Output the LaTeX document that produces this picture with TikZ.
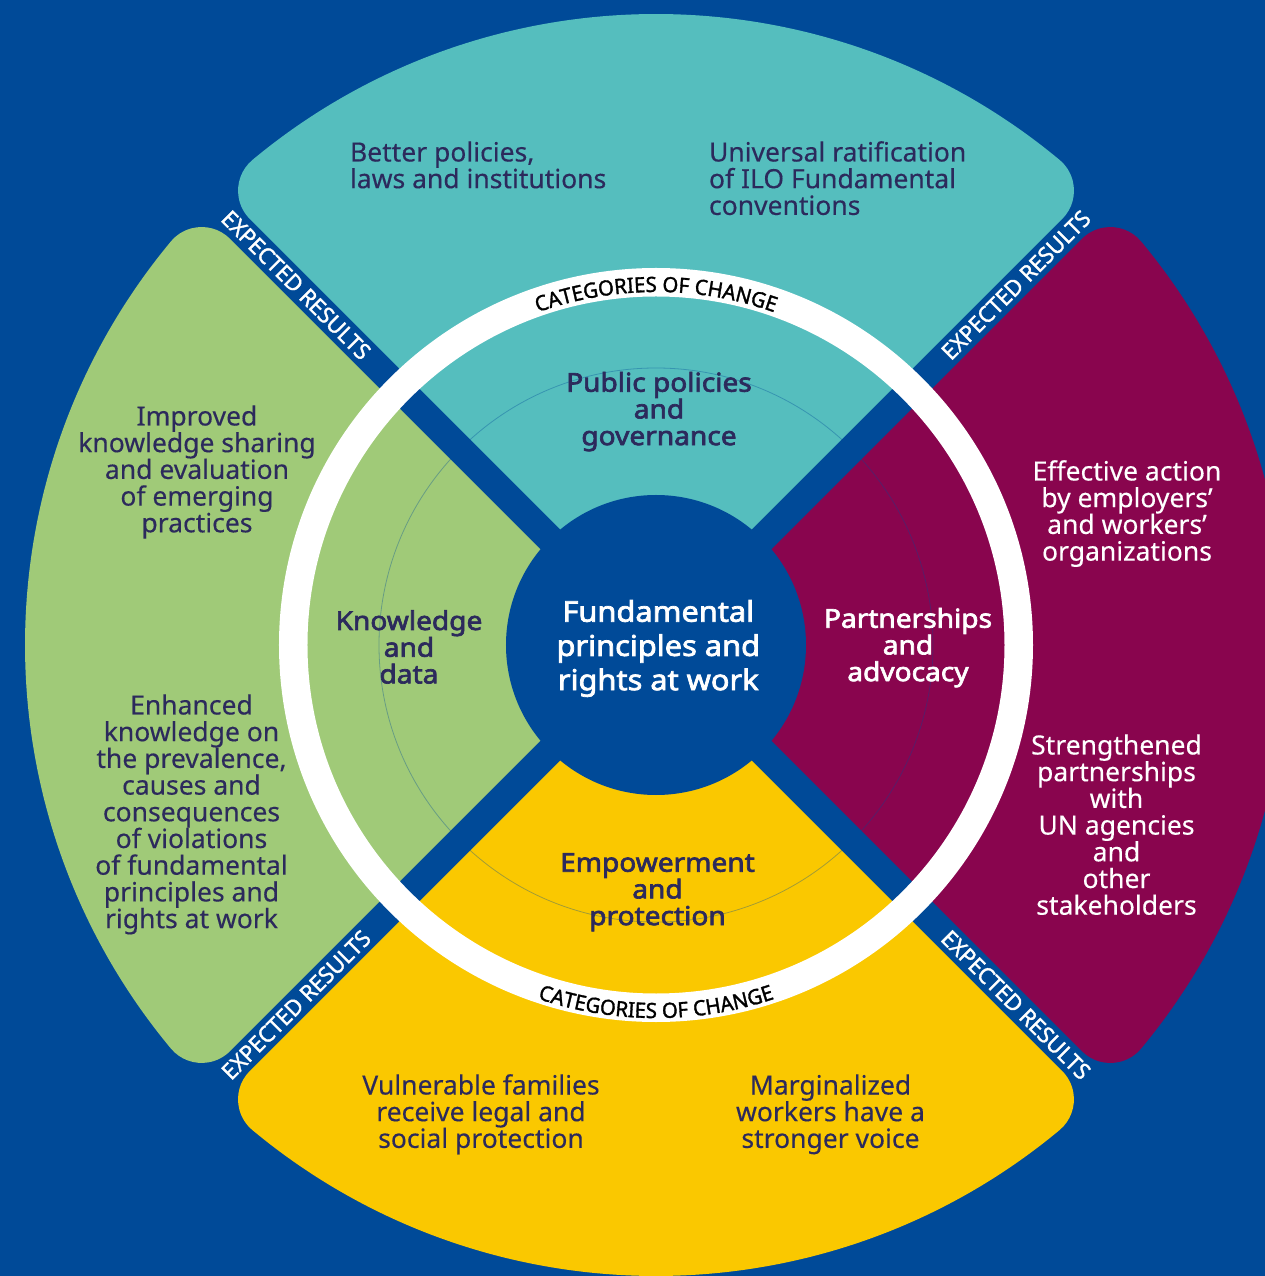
\documentclass[tikz,border=0pt]{standalone}
\usepackage{fontspec}
\setmainfont{Noto Sans}[FakeBold=0.3]
\newfontfamily\heavyfam{Noto Sans}[FakeBold=2.6, FakeStretch=1.08]
\newfontfamily\mediumfam{Noto Sans}[FakeBold=1.5, FakeStretch=0.97]
\usetikzlibrary{decorations.text}

\definecolor{bandblue}{HTML}{004A98}
\definecolor{tealc}{HTML}{55BEBE}
\definecolor{greenc}{HTML}{A0CA78}
\definecolor{magc}{HTML}{89054E}
\definecolor{yelc}{HTML}{FAC800}
\definecolor{inkc}{HTML}{2C2A5C}

% geometry of the petals (all lengths in pt)
\def\petalhw{14}   % half width of the diagonal bands
\def\petalR{631}   % outer radius
\def\petalrr{40}   % rounding of the outer corners
\edef\petalal{\fpeval{round(asind((\petalhw+\petalrr)/(\petalR-\petalrr)),4)}}
\edef\petalt{\fpeval{round(sqrt((\petalR-\petalrr)^2-(\petalhw+\petalrr)^2),3)}}
\edef\petald{\fpeval{round(\petalhw*sqrt(2),3)}}
\edef\petalax{\fpeval{round((\petalt-\petalhw)/sqrt(2),3)}}
\edef\petalay{\fpeval{round((\petalt+\petalhw)/sqrt(2),3)}}

% one quarter petal, centred on 90 degrees before rotation
\newcommand\petal[2]{%
  \begin{scope}[rotate=#2]
    \fill[#1] (0,\petald) -- (\petalax,\petalay)
      arc[start angle=-45, end angle={45+\petalal}, radius=\petalrr]
      arc[start angle={45+\petalal}, end angle={135-\petalal}, radius=\petalR]
      arc[start angle={135-\petalal}, end angle=225, radius=\petalrr]
      -- cycle;
  \end{scope}}

\newcommand\bodyfont{\fontsize{26.5}{26.7}\selectfont}
\newcommand\catfont{\heavyfam\fontsize{26}{26.7}\selectfont}
\newcommand\hubfont{\heavyfam\fontsize{28.5}{34}\selectfont}
\newcommand\tagfont{\mediumfam\fontsize{22.6}{22.6}\selectfont}
\newcommand\arcfont{\mediumfam\fontsize{21}{21}\selectfont}

% stacked lines with a fixed baseline distance; the baseline of the
% whole stack is the baseline of its first line
\newcommand\cstack[2][26.7pt]{\vtop{\baselineskip=#1\lineskiplimit=-100pt\lineskip=0pt
  \halign{\hfil##\hfil\cr#2\crcr}}}
\newcommand\lstack[2][26.7pt]{\vtop{\baselineskip=#1\lineskiplimit=-100pt\lineskip=0pt
  \halign{##\hfil\cr#2\crcr}}}

\tikzset{
  body/.style={font=\bodyfont, text=inkc},
  bodyw/.style={font=\bodyfont, text=white},
  cat/.style={font=\catfont, text=inkc},
  catw/.style={font=\catfont, text=white},
  hub/.style={font=\hubfont, text=white},
  tag/.style={font=\tagfont, text=white},
}

\begin{document}
\begin{tikzpicture}[x=1pt, y=1pt, every node/.style={inner sep=0pt, outer sep=0pt}]
  \useasboundingbox (-656,-631) rectangle (609,645);
  \clip (-656,-631) rectangle (609,645);
  \fill[bandblue] (-656,-631) rectangle (609,645);

  % the four petals
  \petal{tealc}{0}
  \petal{greenc}{90}
  \petal{yelc}{180}
  \petal{magc}{270}

  % thin inner circle, white ring and hub
  \draw[bandblue, opacity=0.35, line width=0.8] (0,0) circle[radius=277];
  \draw[white, line width=28.5] (0,0) circle[radius=362.75];
  \fill[bandblue] (0,0) circle[radius=150];

  % ring captions
  \path[decorate, decoration={text along path, text align=center,
      text={|\arcfont|CATEGORIES OF CHANGE}}]
    (150:353) arc[start angle=150, end angle=30, radius=353];
  \path[decorate, decoration={text along path, text align=center,
      text={|\arcfont|CATEGORIES OF CHANGE}}]
    (210:373) arc[start angle=210, end angle=330, radius=373];

  % band captions
  \node[tag, rotate=-45] (tagTL) at (135:509) {EXPECTED RESULTS};
  \node[tag, rotate=45]  (tagTR) at (45:509)  {EXPECTED RESULTS};
  \node[tag, rotate=45]  (tagBL) at (225:509) {EXPECTED RESULTS};
  \node[tag, rotate=-45] (tagBR) at (315:509) {EXPECTED RESULTS};

  % hub
  \node[hub, anchor=base] (hub) at (2.3,23.3)
    {\cstack[34.2pt]{Fundamental\cr principles and\cr rights at work}};

  % categories of change
  \node[cat, anchor=base]  (catT) at (3,253.3)    {\cstack{Public policies\cr and\cr governance}};
  \node[cat, anchor=base]  (catL) at (-247,15)    {\cstack{Knowledge\cr and\cr data}};
  \node[catw, anchor=base] (catR) at (252,17.3)   {\cstack{Partnerships\cr and\cr advocacy}};
  \node[cat, anchor=base]  (catB) at (1.5,-226.7) {\cstack{Empowerment\cr and\cr protection}};

  % expected results
  \node[body, anchor=base west] (resTa) at (-306,483.5)
    {\lstack{Better policies,\cr laws and institutions}};
  \node[body, anchor=base west] (resTb) at (53,483.5)
    {\lstack{Universal ratification\cr of ILO Fundamental\cr conventions}};
  \node[body, anchor=base] (resLa) at (-459,219.5)
    {\cstack{Improved\cr knowledge sharing\cr and evaluation\cr of emerging\cr practices}};
  \node[body, anchor=base] (resLb) at (-464.5,-69.5)
    {\cstack{Enhanced\cr knowledge on\cr the prevalence,\cr causes and\cr consequences\cr of violations\cr of fundamental\cr principles and\cr rights at work}};
  \node[bodyw, anchor=base] (resRa) at (471,164.5)
    {\cstack{Effective action\cr by employers’\cr and workers’\cr organizations}};
  \node[bodyw, anchor=base] (resRb) at (460.5,-109.5)
    {\cstack{Strengthened\cr partnerships\cr with\cr UN agencies\cr and\cr other\cr stakeholders}};
  \node[body, anchor=base] (resBa) at (-175,-449.5)
    {\cstack{Vulnerable families\cr receive legal and\cr social protection}};
  \node[body, anchor=base] (resBb) at (174.5,-449.5)
    {\cstack{Marginalized\cr workers have a\cr stronger voice}};
\end{tikzpicture}
\end{document}
